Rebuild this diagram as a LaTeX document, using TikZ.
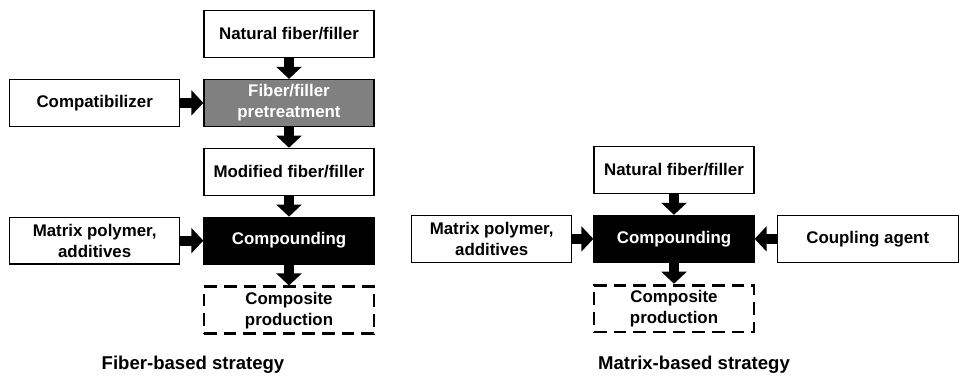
\documentclass[tikz,border=0pt]{standalone}
\usepackage{fontspec}
\setmainfont{Liberation Sans}
\usetikzlibrary{arrows.meta,positioning}

\begin{document}
\begin{tikzpicture}[x=0.025cm, y=-0.025cm, node distance=0.52cm,
    every node/.style={font=\fontsize{12}{15}\selectfont\bfseries},
    box/.style={draw,line width=0.9pt,fill=white,align=center,minimum width=4.25cm,minimum height=1.17cm,inner sep=1pt},
    rbox/.style={box,minimum width=4cm},
    darkbox/.style={fill=black,text=white},
    dashbox/.style={box,line width=2pt,dash pattern=on 9pt off 5pt},
    caption/.style={font=\fontsize{13.2}{15}\selectfont\bfseries},
    arr/.style={line width=0.25cm,-{Triangle[width=0.62cm,length=0.3cm]}}]
  \useasboundingbox (0,0) rectangle (959,375);
  % fiber-based strategy
  \node[box] (nat1) at (289,34) {Natural fiber/filler};
  \node[box,fill=black!50,text=white,below=of nat1] (pre) {Fiber/filler\\pretreatment};
  \node[box,left=0.575cm of pre] (comp) {Compatibilizer};
  \node[box,below=of pre] (mod) {Modified fiber/filler};
  \node[box,darkbox,below=of mod] (cpd1) {Compounding};
  \node[box,left=0.575cm of cpd1] (mat1) {Matrix polymer,\\additives};
  \node[dashbox,below=of cpd1] (prod1) {Composite\\production};
  % matrix-based strategy
  \node[rbox] (nat2) at (674,170) {Natural fiber/filler};
  \node[rbox,darkbox,below=of nat2] (cpd2) {Compounding};
  \node[rbox,left=0.525cm of cpd2] (mat2) {Matrix polymer,\\additives};
  \node[box,minimum width=4.52cm,right=0.55cm of cpd2] (coup) {Coupling agent};
  \node[dashbox,minimum width=4cm,below=of cpd2] (prod2) {Composite\\production};
  \foreach \a/\b in {nat1/pre,pre/mod,mod/cpd1,cpd1/prod1,comp/pre,mat1/cpd1,
      nat2/cpd2,cpd2/prod2,mat2/cpd2,coup/cpd2} \draw[arr] (\a)--(\b);
  \node[caption] (lab1) at (193,365) {Fiber-based strategy};
  \node[caption] (lab2) at (694,365) {Matrix-based strategy};
\end{tikzpicture}
\end{document}
